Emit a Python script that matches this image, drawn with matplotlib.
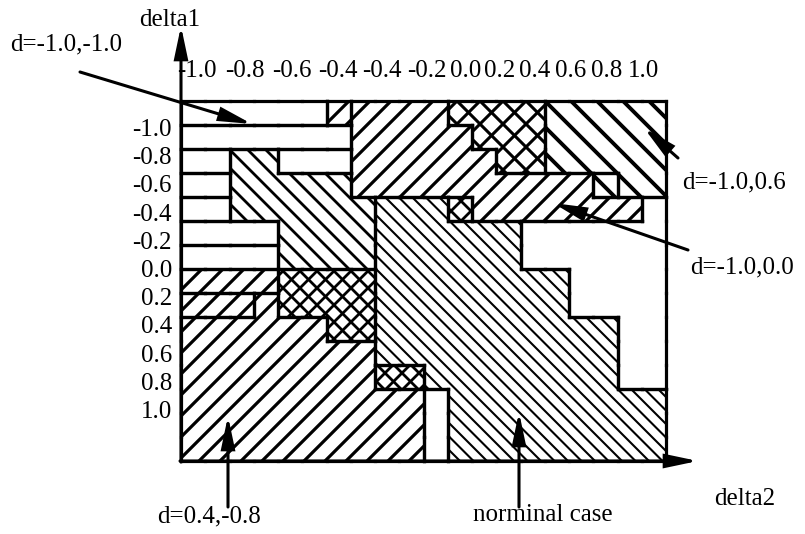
import numpy as np
import matplotlib
matplotlib.use("Agg")
import matplotlib.pyplot as plt
from matplotlib.path import Path
from matplotlib.patches import PathPatch, FancyArrowPatch
from matplotlib.collections import LineCollection

plt.rcParams['font.family'] = ['Liberation Serif', 'DejaVu Serif']

# ---------------- data ----------------
delta2_labels = ["-1.0", "-0.8", "-0.6", "-0.4", "-0.4", "-0.2",
                 "0.0", "0.2", "0.4", "0.6", "0.8", "1.0"]
delta1_labels = ["-1.0", "-0.8", "-0.6", "-0.4", "-0.2", "0.0",
                 "0.2", "0.4", "0.6", "0.8", "1.0"]

# regions on a 20 x 15 cell grid: (row, first col, end col)
reg_d_m10_00 = [(0, 7, 11), (1, 7, 12), (2, 7, 13), (3, 7, 17), (4, 12, 19)]
reg_d_m10_00_box = [(0, 6, 7)]
reg_cross_top = [(0, 11, 15), (1, 12, 15), (2, 13, 15)]
reg_d_m10_06 = [(0, 15, 20), (1, 15, 20), (2, 15, 20), (3, 18, 20)]
reg_d_m10_06_box = [(3, 17, 18)]
reg_cross_mid = [(4, 11, 12)]
reg_d_m10_m10 = [(2, 2, 4), (3, 2, 7), (4, 2, 8), (5, 4, 8), (6, 4, 8)]
reg_nominal = [(4, 8, 11), (5, 8, 14), (6, 8, 14), (7, 8, 16), (8, 8, 16),
               (9, 8, 18), (10, 8, 18), (11, 10, 18), (12, 11, 20),
               (13, 11, 20), (14, 11, 20)]
reg_cross_low = [(7, 4, 8), (8, 4, 8), (9, 6, 8)]
reg_cross_low_box = [(11, 8, 10)]
reg_d_04_m08 = [(8, 3, 4), (9, 0, 6), (10, 0, 8), (11, 0, 8), (12, 0, 10),
                (13, 0, 10), (14, 0, 10)]
reg_d_04_m08_box1 = [(7, 0, 4)]
reg_d_04_m08_box2 = [(8, 0, 3)]
white_left = [[(0, 0, 6)], [(1, 0, 7)], [(2, 0, 2)], [(2, 4, 7)], [(3, 0, 2)],
              [(4, 0, 2)], [(5, 0, 4)], [(6, 0, 4)]]
white_low = [(12, 10, 11), (13, 10, 11), (14, 10, 11)]
white_right = [(4, 19, 20), (5, 14, 20), (6, 14, 20), (7, 16, 20), (8, 16, 20),
               (9, 18, 20), (10, 18, 20), (11, 18, 20)]

# ---------------- styles ----------------
W, H, DPI = 805, 534, 100
AX_L, AX_T, AX_R, AX_B = 181, 101, 666, 461
NC, NR = 20, 15
UX = (AX_R - AX_L) / NC
UY = (AX_B - AX_T) / NR

# (spans, hatch kind, horizontal spacing px, line width pt)
regions = [
    (reg_d_m10_00, '/', 21, 2.3),
    (reg_d_m10_00_box, '/', 21, 2.3),
    (reg_cross_top, 'x', 23, 2.2),
    (reg_d_m10_06, '\\', 26, 2.8),
    (reg_d_m10_06_box, '\\', 26, 2.8),
    (reg_cross_mid, 'x', 20, 2.0),
    (reg_d_m10_m10, '\\', 18, 2.0),
    (reg_nominal, '\\', 13.5, 1.5),
    (reg_cross_low, 'x', 17, 2.0),
    (reg_cross_low_box, 'x', 17, 2.0),
    (reg_d_04_m08, '/', 21, 2.3),
    (reg_d_04_m08_box1, '/', 21, 2.3),
    (reg_d_04_m08_box2, '/', 21, 2.3),
    (white_low, None, 0, 0),
    (white_right, None, 0, 0),
] + [(w, None, 0, 0) for w in white_left]

fig = plt.figure(figsize=(W / DPI, H / DPI), dpi=DPI)
fig.patch.set_facecolor('white')
ax = fig.add_axes([AX_L / W, 1 - AX_B / H, (AX_R - AX_L) / W, (AX_B - AX_T) / H])
ax.set_xlim(0, NC)
ax.set_ylim(NR, 0)
ax.axis('off')


def span_path(spans):
    verts, codes = [], []
    for r, c0, c1 in spans:
        verts += [(c0, r), (c1, r), (c1, r + 1), (c0, r + 1), (c0, r)]
        codes += [Path.MOVETO, Path.LINETO, Path.LINETO, Path.LINETO, Path.CLOSEPOLY]
    return Path(verts, codes)


def hatch_segments(spans, kind, h):
    rmin = min(s[0] for s in spans) - 1
    rmax = max(s[0] for s in spans) + 2
    cmin = min(s[1] for s in spans) - 1
    cmax = max(s[2] for s in spans) + 1
    Y0, Y1 = rmin * UY, rmax * UY
    X0, X1 = cmin * UX, cmax * UX
    segs = []
    kinds = ['/', '\\'] if kind == 'x' else [kind]
    for k in kinds:
        if k == '/':
            lo, hi = X0 + Y0, X1 + Y1
            for kk in np.arange(np.floor(lo / h) * h, hi + h, h):
                segs.append([((kk - Y0) / UX, Y0 / UY), ((kk - Y1) / UX, Y1 / UY)])
        else:
            lo, hi = X0 - Y1, X1 - Y0
            for kk in np.arange(np.floor(lo / h) * h, hi + h, h):
                segs.append([((kk + Y0) / UX, Y0 / UY), ((kk + Y1) / UX, Y1 / UY)])
    return segs


def outline_segments(spans):
    cells = set()
    for r, c0, c1 in spans:
        for c in range(c0, c1):
            cells.add((r, c))
    segs = []
    for r, c in cells:
        if (r - 1, c) not in cells:
            segs.append([(c, r), (c + 1, r)])
        if (r + 1, c) not in cells:
            segs.append([(c, r + 1), (c + 1, r + 1)])
        if (r, c - 1) not in cells:
            segs.append([(c, r), (c, r + 1)])
        if (r, c + 1) not in cells:
            segs.append([(c + 1, r), (c + 1, r + 1)])
    return segs


all_edges = []
for spans, kind, h, lw in regions:
    patch = PathPatch(span_path(spans), facecolor='white', edgecolor='none', zorder=1)
    ax.add_patch(patch)
    if kind is not None:
        lc = LineCollection(hatch_segments(spans, kind, h), colors='black',
                            linewidths=lw, zorder=2)
        ax.add_collection(lc)
        lc.set_clip_path(patch)
    all_edges += outline_segments(spans)

edges = LineCollection(all_edges, colors='black', linewidths=2.3, zorder=3,
                       capstyle='projecting')
edges.set_clip_on(False)
ax.add_collection(edges)

# ---------------- overlay for axes arrows and labels ----------------
ov = fig.add_axes([0, 0, 1, 1], zorder=5)
ov.set_xlim(0, W)
ov.set_ylim(H, 0)
ov.axis('off')
ov.patch.set_alpha(0)

FS = 18
AST = '-|>,head_length=0.95,head_width=0.2'


def arrow(p0, p1):
    ov.add_patch(FancyArrowPatch(p0, p1, arrowstyle=AST, mutation_scale=20,
                                 lw=2.2, color='black', shrinkA=0, shrinkB=0,
                                 joinstyle='miter'))


# coordinate axes
arrow((AX_L, AX_B + 1), (AX_L, 26))
arrow((AX_L - 1, AX_B), (698, AX_B))
ov.text(170, 26, "delta1", fontsize=FS, ha='center', va='baseline')
ov.text(714, 505, "delta2", fontsize=FS, ha='left', va='baseline')

# tick labels
top_x = [197, 245, 292, 338, 382, 427, 466, 500, 535, 571, 607, 643]
for x, lab in zip(top_x, delta2_labels):
    ov.text(x, 77, lab, fontsize=FS, ha='center', va='baseline')
left_y = np.linspace(136, 418, len(delta1_labels))
for y, lab in zip(left_y, delta1_labels):
    ov.text(172, y, lab, fontsize=FS, ha='right', va='baseline')

# annotations
ov.text(10, 50, "d=-1.0,-1.0", fontsize=FS, ha='left', va='baseline')
arrow((80, 72), (252, 124))
ov.text(682, 188, "d=-1.0,0.6", fontsize=FS, ha='left', va='baseline')
arrow((678, 158), (644, 128))
ov.text(690, 273, "d=-1.0,0.0", fontsize=FS, ha='left', va='baseline')
arrow((688, 250), (553, 203))
ov.text(157, 522, "d=0.4,-0.8", fontsize=FS, ha='left', va='baseline')
arrow((228, 507), (228, 416))
ov.text(473, 521, "norminal case", fontsize=FS, ha='left', va='baseline')
arrow((519, 507), (519, 412))

fig.savefig("out.png", dpi=DPI, facecolor='white')
